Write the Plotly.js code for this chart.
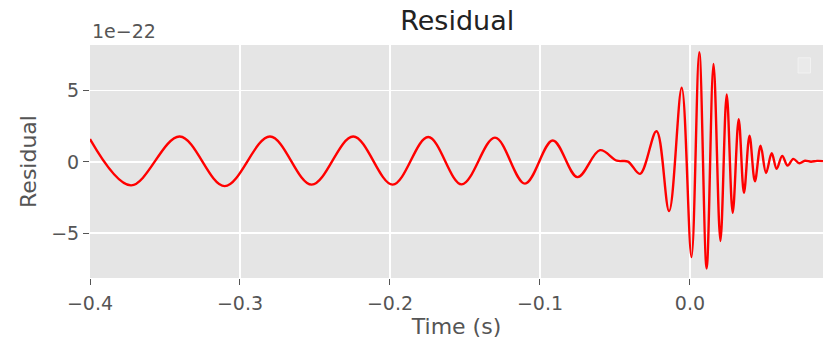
<!DOCTYPE html>
<html>
<head>
<meta charset="utf-8">
<script src="https://cdn.plot.ly/plotly-3.0.1.min.js"></script>
<style>html,body{margin:0;padding:0;background:#fff;}#chart{width:823px;height:344px;}</style>
</head>
<body>
<div id="chart"></div>
<script>
// Time (s) of the turning points
const time = [
  -0.4, -0.3727, -0.3402, -0.3102, -0.28, -0.2522, -0.2245, -0.1982, -0.1745, -0.1522,
  -0.13, -0.11, -0.0915, -0.075, -0.06, -0.0487, -0.0413, -0.0333, -0.0223, -0.0139,
  -0.0055, 0.0010, 0.0062, 0.0111, 0.0157, 0.0203, 0.0245, 0.0285, 0.0325, 0.036,
  0.0397, 0.0433, 0.0471, 0.0507, 0.0545, 0.0578, 0.0615, 0.0651, 0.0689, 0.0729,
  0.0767, 0.0807, 0.0847, 0.0887
];
// Residual in units of 1e-22
const residual = [
  1.6, -1.65, 1.78, -1.7, 1.78, -1.6, 1.78, -1.6, 1.74, -1.58,
  1.7, -1.53, 1.5, -1.07, 0.82, 0.08, 0.02, -0.84, 2.15, -3.45,
  5.2, -6.68, 7.7, -7.48, 6.87, -5.55, 4.73, -3.58, 3.0, -2.18,
  1.84, -1.36, 1.14, -0.78, 0.6, -0.49, 0.42, -0.26, 0.21, -0.1,
  0.08, 0.01, 0.07, 0.05
];
const xTickVals = [-0.4, -0.3, -0.2, -0.1, 0.0];
const xTickText = ['\u22120.4', '\u22120.3', '\u22120.2', '\u22120.1', '0.0'];
const yTickVals = [-5, 0, 5];
const yTickText = ['\u22125', '0', '5'];

const font = 'DejaVu Sans, sans-serif';
const trace = {
  x: time, y: residual, type: 'scatter', mode: 'lines',
  line: {color: '#ff0000', width: 2.4, shape: 'spline', smoothing: 1.0},
  hoverinfo: 'skip', showlegend: false
};
const layout = {
  width: 823, height: 344,
  margin: {l: 90, r: 0, t: 45, b: 66},
  paper_bgcolor: '#ffffff', plot_bgcolor: '#e5e5e5',
  font: {family: font, color: '#555555'},
  title: {text: 'Residual', font: {family: font, size: 27, color: '#222222'}, x: 0.5555, xanchor: 'center', y: 0.94, yanchor: 'middle'},
  xaxis: {
    range: [-0.4, 0.0887], tickvals: xTickVals, ticktext: xTickText,
    showgrid: true, gridcolor: '#ffffff', gridwidth: 1.3, zeroline: false,
    ticks: 'outside', ticklen: 6, tickcolor: '#555555', tickwidth: 1,
    ticklabelstandoff: 2,
    tickfont: {family: font, size: 19, color: '#555555'},
    title: {text: 'Time (s)', font: {family: font, size: 22, color: '#555555'}, standoff: 5},
    showline: false
  },
  yaxis: {
    range: [-8.15, 8.2], tickvals: yTickVals, ticktext: yTickText,
    showgrid: true, gridcolor: '#ffffff', gridwidth: 1.3, zeroline: false,
    ticks: 'outside', ticklen: 6, tickcolor: '#555555', tickwidth: 1,
    tickfont: {family: font, size: 19, color: '#555555'},
    title: {text: 'Residual', font: {family: font, size: 22, color: '#555555'}, standoff: 8},
    showline: false
  },
  annotations: [{
    text: '1e\u221222', xref: 'paper', yref: 'paper', x: 0, y: 1, xanchor: 'left', yanchor: 'bottom',
    yshift: 1, showarrow: false, font: {family: font, size: 19, color: '#555555'}
  }],
  shapes: [{
    type: 'rect', xref: 'paper', yref: 'paper', x0: 0.966, x1: 0.983, y0: 0.88, y1: 0.945,
    line: {color: '#f2f2f2', width: 1}, fillcolor: 'rgba(235,235,235,0.8)'
  }]
};
Plotly.newPlot('chart', [trace], layout, {displayModeBar: false, staticPlot: true});
</script>
</body>
</html>
